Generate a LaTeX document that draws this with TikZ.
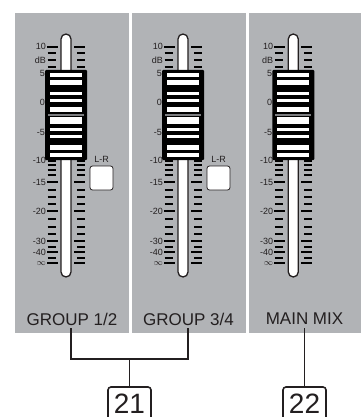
\documentclass[tikz,border=0pt]{standalone}
\usepackage{fontspec}
\setmainfont{Liberation Sans}
\definecolor{panel}{HTML}{B1B3B6}
\definecolor{ink}{HTML}{231F20}
\tikzset{
  x=1pt,y=-1pt,
  panelbox/.style={fill=panel,draw=none,inner sep=0,outer sep=0,minimum height=320pt,anchor=north west},
  scalelabel/.style={font=\fontsize{9}{9}\selectfont,text=ink,anchor=east,inner sep=0},
  chanlabel/.style={font=\fontsize{17}{17}\selectfont,text=ink,inner sep=0},
  leader/.style={draw=ink,line width=1.6pt},
  numbox/.style={draw=ink,line width=1.6pt,rounded corners=3pt,fill=white},
  lrbtn/.style={draw=ink,line width=.8pt,fill=white,rounded corners=2.5pt,inner sep=0,minimum width=23pt,minimum height=24pt},
  track/.style={draw=ink,line width=1.3pt,fill=white},
  long/.style={line width=2.3pt,draw=black},
}
\newcommand{\faderstrip}[1]{%
  \begin{scope}[xshift=#1]
    \foreach \y in {47,182.3,211.3,241,252.3,263.3}{
      \draw[long] (47,\y) -- (57.5,\y);
      \draw[long] (74,\y) -- (85,\y);}
    \foreach \y in {53.3,60,66.7,160.7,165,170,175,189.7,196.7,204,219,226.7,234,246.7,257.7}{
      \draw[long,line width=1.9pt] (47.5,\y) -- (55.5,\y);
      \draw[long,line width=1.9pt] (77,\y) -- (85,\y);}
    \draw[track] (61,80) -- (61,39) arc[start angle=180,end angle=360,radius=5] -- (71,272) arc[start angle=0,end angle=180,radius=5] -- cycle;
    \fill[black,rounded corners=1pt] (45,70) rectangle (87,160);
    \foreach \a/\b in {72.7/76.7,80/85,92/95,98.7/102,106.7/112,117/124,128/131,134.7/138,145/150,152.7/157.3}{
      \fill[white] (50,\a) rectangle (82,\b);}
    \fill[panel!70!black] (48,113.5) rectangle (84,116);
    \node[scalelabel] at (46,46.5) {10};
    \node[scalelabel] at (46,60) {dB};
    \node[scalelabel] at (45,73.5) {5};
    \node[scalelabel] at (45,102) {0};
    \node[scalelabel] at (45,132) {-5};
    \node[scalelabel] at (46,160.5) {-10};
    \node[scalelabel] at (46,182.5) {-15};
    \node[scalelabel] at (46,211.5) {-20};
    \node[scalelabel] at (46,241) {-30};
    \node[scalelabel] at (46,252.5) {-40};
    \node[scalelabel] at (46,263.5) {$\infty$};
  \end{scope}}
\begin{document}
\begin{tikzpicture}
\useasboundingbox (0,0) rectangle (361,417);
\node[panelbox,minimum width=114pt] (p1) at (15,13) {};
\node[panelbox,minimum width=114pt] (p2) at (132,13) {};
\node[panelbox,minimum width=112pt] (p3) at (249,13) {};
\faderstrip{0pt}
\faderstrip{117pt}
\faderstrip{227.3pt}
\node[lrbtn] (lr1) at (101.5,178) {};
\node[lrbtn] (lr2) at (218.5,178) {};
\node[scalelabel,anchor=center] at (101.5,159) {L-R};
\node[scalelabel,anchor=center] at (218.5,159) {L-R};
\node[chanlabel] (g1) at (72,319) {GROUP 1/2};
\node[chanlabel] (g2) at (188.5,319) {GROUP 3/4};
\node[chanlabel] (g3) at (304.5,319) {MAIN MIX};
\path[numbox] (108,425) -- (108,387) -- (151,387) -- (151,425);
\path[numbox] (283,425) -- (283,387) -- (326,387) -- (326,425);
\coordinate (b1) at (129.5,387);
\coordinate (b2) at (304.5,387);
\node[font=\fontsize{28}{28}\selectfont,text=ink,inner sep=0] (n21) at (129.5,403.5) {21};
\node[font=\fontsize{28}{28}\selectfont,text=ink,inner sep=0] (n22) at (304.5,403.5) {22};
\coordinate (j1) at (71,359);
\coordinate (j2) at (188,359);
\draw[leader,line join=miter] (71,328) -- (j1) -- (j2) -- (188,328);
\draw[leader] (129.5,359) -- (b1);
\draw[leader] (304.5,328) -- (b2);
\end{tikzpicture}
\end{document}
